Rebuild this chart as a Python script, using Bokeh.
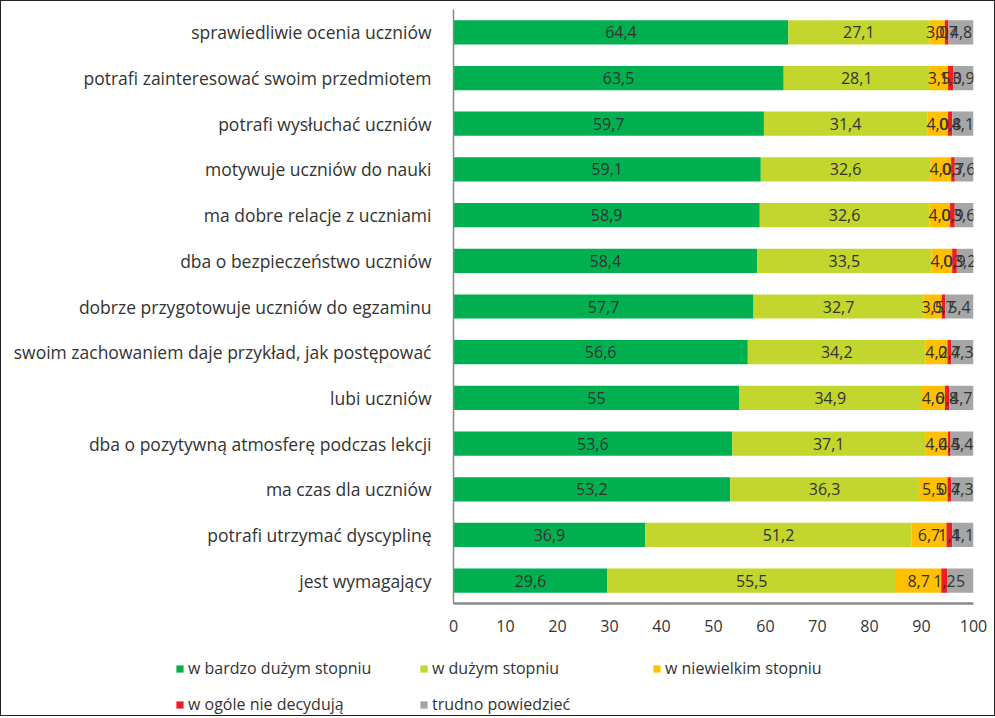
from bokeh.plotting import figure
from bokeh.layouts import column, row
from bokeh.models import ColumnDataSource, Legend, LegendItem, FixedTicker
from bokeh.core.properties import value
from bokeh.embed import file_html
from bokeh.resources import INLINE

categories = [
    "sprawiedliwie ocenia uczniów",
    "potrafi zainteresować swoim przedmiotem",
    "potrafi wysłuchać uczniów",
    "motywuje uczniów do nauki",
    "ma dobre relacje z uczniami",
    "dba o bezpieczeństwo uczniów",
    "dobrze przygotowuje uczniów do egzaminu",
    "swoim zachowaniem daje przykład, jak postępować",
    "lubi uczniów",
    "dba o pozytywną atmosferę podczas lekcji",
    "ma czas dla uczniów",
    "potrafi utrzymać dyscyplinę",
    "jest wymagający",
]
bardzo_duzy = [64.4, 63.5, 59.7, 59.1, 58.9, 58.4, 57.7, 56.6, 55, 53.6, 53.2, 36.9, 29.6]
duzy = [27.1, 28.1, 31.4, 32.6, 32.6, 33.5, 32.7, 34.2, 34.9, 37.1, 36.3, 51.2, 55.5]
niewielki = [3.0, 3.5, 4.0, 4.0, 4.0, 4.0, 3.5, 4.2, 4.6, 4.4, 5.5, 6.7, 8.7]
wcale = [0.7, 1.0, 0.8, 0.7, 0.9, 0.9, 0.7, 0.7, 0.8, 0.5, 0.7, 1.1, 1.2]
trudno = [4.8, 3.9, 4.1, 3.6, 3.6, 3.2, 5.4, 4.3, 4.7, 4.4, 4.3, 4.1, 5]
series_names = ["w bardzo dużym stopniu", "w dużym stopniu", "w niewielkim stopniu",
                "w ogóle nie decydują", "trudno powiedzieć"]
colors = ["#00B050", "#C2D62E", "#FFC000", "#EE1C25", "#A6A6A6"]
x_ticks = [0, 10, 20, 30, 40, 50, 60, 70, 80, 90, 100]

keys = ["s0", "s1", "s2", "s3", "s4"]
series = [bardzo_duzy, duzy, niewielki, wcale, trudno]
data = {"cat": categories}
for k, s in zip(keys, series):
    data[k] = s
source = ColumnDataSource(data)

FONT = "Open Sans"
TXT = "#333333"

p = figure(width=993, height=642, y_range=list(reversed(categories)), x_range=(0, 100),
           output_backend="svg", toolbar_location=None,
           min_border_left=452, min_border_right=21, min_border_top=8, min_border_bottom=40)

rends = p.hbar_stack(keys, y="cat", height=0.53, color=colors, line_color=None, source=source)

# data labels
for i, (k, s) in enumerate(zip(keys, series)):
    starts = [sum(ser[j] for ser in series[:i]) for j in range(len(categories))]
    centers = [st + v / 2 for st, v in zip(starts, s)]
    labels = [str(v).replace(".", ",") for v in s]
    src = ColumnDataSource(dict(x=centers, y=categories, t=labels))
    p.text(x="x", y="y", text="t", source=src, text_align="center", text_baseline="middle",
           text_font=value(FONT), text_font_size="16px", text_color=TXT)

p.xgrid.grid_line_color = None
p.ygrid.grid_line_color = None
p.outline_line_color = None
p.y_range.range_padding = 0

p.xaxis.ticker = FixedTicker(ticks=x_ticks)
p.xaxis.axis_line_color = "#8a8a8a"
p.xaxis.axis_line_width = 2.5
p.xaxis.major_tick_line_color = None
p.xaxis.minor_tick_line_color = None
p.xaxis.major_label_text_font = FONT
p.xaxis.major_label_text_font_size = "16px"
p.xaxis.major_label_text_color = TXT
p.xaxis.major_label_standoff = 10

p.yaxis.axis_line_color = "#8a8a8a"
p.yaxis.axis_line_width = 1.5
p.yaxis.major_tick_line_color = None
p.yaxis.minor_tick_line_color = None
p.yaxis.major_label_text_font = FONT
p.yaxis.major_label_text_font_size = "17.5px"
p.yaxis.major_label_text_color = TXT
p.yaxis.major_label_standoff = 16

# legend strip as a separate figure whose frame spans the full width
lf = figure(width=993, height=72, x_range=(0, 1), y_range=(0, 1),
            output_backend="svg", toolbar_location=None,
            min_border_left=0, min_border_right=0, min_border_top=0, min_border_bottom=0)
lf.axis.visible = False
lf.grid.grid_line_color = None
lf.outline_line_color = None
for fig in (p, lf):
    if "frame_align" in fig.properties():
        fig.frame_align = False

dummy = ColumnDataSource(dict(y=[-10], r=[-5]))
legend_pos = [(174, 36), (418, 36), (651, 36), (174, 0), (418, 0)]
for name, col, pos in zip(series_names, colors, legend_pos):
    r = lf.hbar(y="y", right="r", left=-10, height=1, source=dummy,
                fill_color=col, line_color=None)
    lg = Legend(items=[LegendItem(label=name, renderers=[r])], location=pos,
                orientation="horizontal", glyph_width=9, glyph_height=9,
                label_standoff=4, padding=0, margin=0, spacing=0,
                border_line_color=None, background_fill_alpha=0,
                label_text_font=FONT, label_text_font_size="16px", label_text_color=TXT)
    lf.add_layout(lg, "center")

layout = column(p, row(lf), spacing=0)
layout.styles = {"border": "1.5px solid #222"}

open("out.html", "w").write(file_html(layout, INLINE))
